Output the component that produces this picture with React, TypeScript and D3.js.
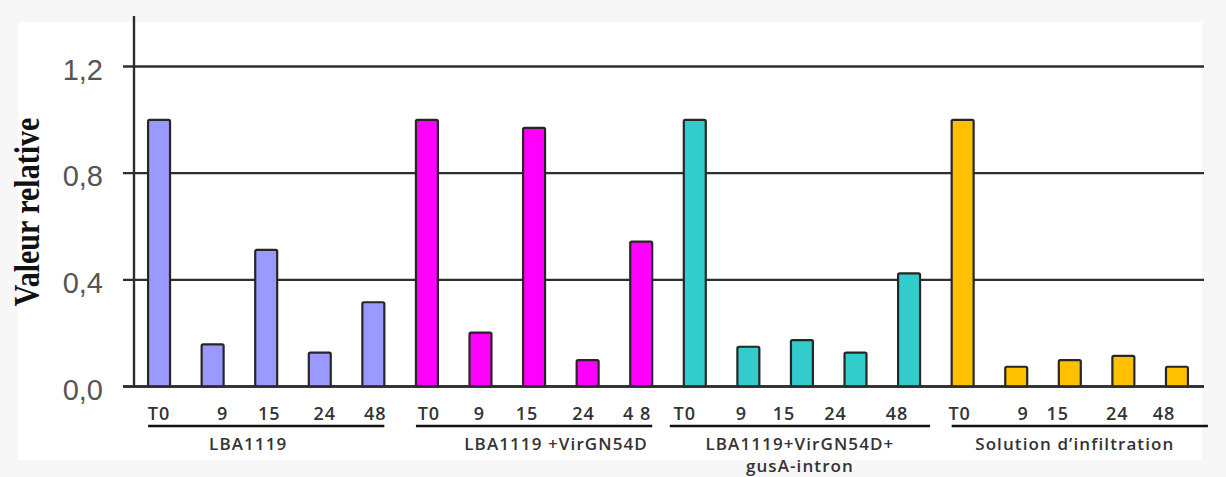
import React from "react";
import * as d3 from "d3";

// ---- data ----
const groups = ["LBA1119", "LBA1119 +VirGN54D", "LBA1119+VirGN54D+|gusA-intron", "Solution d\u2019infiltration"];
const timeLabels = [
  ["T0", "9", "15", "24", "48"],
  ["T0", "9", "15", "24", "4 8"],
  ["T0", "9", "15", "24", "48"],
  ["T0", "9", "15", "24", "48"],
];
const valuesLBA = [1.0, 0.158, 0.512, 0.127, 0.316];
const valuesVirG = [1.0, 0.202, 0.97, 0.099, 0.543];
const valuesGus = [1.0, 0.149, 0.174, 0.127, 0.424];
const valuesSol = [1.0, 0.074, 0.099, 0.115, 0.074];
const series = [valuesLBA, valuesVirG, valuesGus, valuesSol];
const colors = ["#9999FF", "#FF00FF", "#33CCCC", "#FFC000"];
const yTicks = [0, 0.4, 0.8, 1.2];
const yTitle = "Valeur relative";

// ---- layout (label nudges only) ----
const labelNudge = [
  [0, 10, 3, 5, 2],
  [2, -1, -7, -4, -4],
  [-10, -7, -18, -20, -12],
  [-3, 7, -12, -6, -13],
];

const W = 1226;
const H = 477;

export default function App() {
  const flat = series.flatMap((vals, g) =>
    vals.map((v, i) => ({ key: `${g}-${i}`, g, i, v, label: timeLabels[g][i] }))
  );
  const x = d3.scaleBand<string>().domain(flat.map((d) => d.key)).range([132, 1204]).paddingInner(0.59).paddingOuter(0.3);
  const y = d3.scaleLinear().domain([0, 1.2]).range([386.5, 66.5]);
  const axisX = 134;
  const gridLeft = 123;
  const gridRight = 1204;
  const labelFont = "Open Sans, sans-serif";

  return (
    <svg width={W} height={H} style={{ position: "absolute", left: 0, top: 0, background: "#f7f7f7" }}>
      <rect x={18} y={22} width={1184} height={438} fill="#ffffff" />
      {/* gridlines */}
      {yTicks.map((t) => (
        <line key={t} x1={gridLeft} x2={gridRight} y1={y(t)} y2={y(t)} stroke="#2e2e2e" strokeWidth={2.4} />
      ))}
      {/* y axis */}
      <line x1={axisX} x2={axisX} y1={16} y2={y(0)} stroke="#2e2e2e" strokeWidth={2.4} />
      {/* y tick labels */}
      {yTicks.map((t) => (
        <text
          key={t}
          x={103}
          y={y(t) + 3}
          textAnchor="end"
          dominantBaseline="central"
          fontFamily="Liberation Sans, Arial, sans-serif"
          fontSize={29}
          fill="#555555"
        >
          {d3.format(".1f")(t).replace(".", ",")}
        </text>
      ))}
      {/* y title */}
      <text
        transform={`translate(27,212) rotate(-90) scale(1,1.2)`}
        textAnchor="middle"
        dominantBaseline="central"
        fontFamily="Liberation Serif, Times New Roman, serif"
        fontWeight="bold"
        fontSize={30}
        fill="#111"
      >
        {yTitle}
      </text>
      {/* bars */}
      {flat.map((d) => (
        <rect
          key={d.key}
          x={x(d.key)!}
          y={y(d.v)}
          width={x.bandwidth()}
          height={y(0) - y(d.v)}
          fill={colors[d.g]}
          stroke="#262626"
          strokeWidth={2.2}
          rx={1.5}
        />
      ))}
      {/* baseline */}
      <line x1={gridLeft} x2={gridRight} y1={y(0)} y2={y(0)} stroke="#2e2e2e" strokeWidth={2.4} />
      {/* x tick labels */}
      {flat.map((d) => (
        <text
          key={"l" + d.key}
          x={x(d.key)! + x.bandwidth() / 2 + labelNudge[d.g][d.i]}
          y={413}
          textAnchor="middle"
          dominantBaseline="central"
          fontFamily={labelFont}
          fontWeight={600}
          fontSize={18}
          letterSpacing={1}
          fill="#333"
        >
          {d.label}
        </text>
      ))}
      {/* group underlines and labels */}
      {groups.map((gName, g) => {
        const keys = flat.filter((d) => d.g === g).map((d) => d.key);
        const x0 = x(keys[0])! + (g === 2 ? -14 : 0);
        const x1 = x(keys[keys.length - 1])! + x.bandwidth() + (g === 2 ? 10 : g === 3 ? 20 : 0);
        const cx = (x0 + x1) / 2;
        const lines = gName.split("|");
        return (
          <g key={gName}>
            <line x1={x0} x2={x1} y1={426} y2={426} stroke="#111" strokeWidth={2.6} />
            {lines.map((ln, k) => (
              <text
                key={k}
                x={cx + (g === 0 ? -18 : g === 1 ? 22 : g === 3 ? -5 : 0)}
                y={443 + k * 22}
                textAnchor="middle"
                dominantBaseline="central"
                fontFamily={labelFont}
                fontWeight={600}
                fontSize={17}
                letterSpacing={1.1}
                fill="#333"
              >
                {ln}
              </text>
            ))}
          </g>
        );
      })}
    </svg>
  );
}
